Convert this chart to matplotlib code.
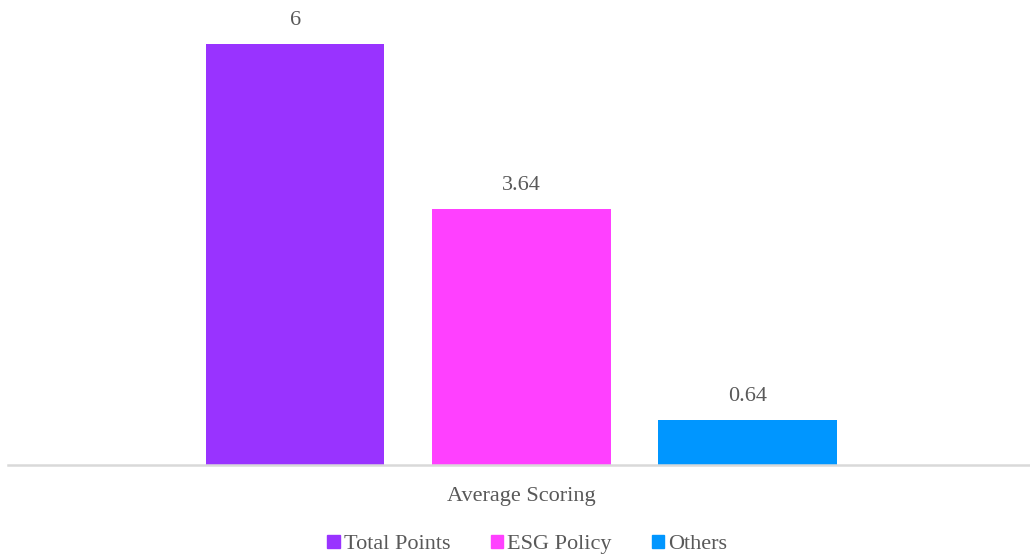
import matplotlib.pyplot as plt
from matplotlib.patches import Patch

series = ["Total Points", "ESG Policy", "Others"]
values = [6, 3.64, 0.64]
labels = ["6", "3.64", "0.64"]
colors = ["#9933FF", "#FF40FF", "#0096FF"]
category = "Average Scoring"

plt.rcParams['font.family'] = ['Liberation Serif', 'DejaVu Serif']
txt = "#595959"

fig = plt.figure(figsize=(10.3, 5.58), dpi=100)
ax = fig.add_axes([8 / 1030, 93 / 558, 1022 / 1030, 465 / 558])

pos = [-1, 0, 1]
ax.bar(pos, values, width=0.79, color=colors)
for p, v, l in zip(pos, values, labels):
    ax.text(p, v + 0.2, l, ha='center', va='bottom', fontsize=16, color=txt)

ax.set_xlim(-2.27, 2.25)
ax.set_ylim(0, 6.62)
ax.set_yticks([])
ax.set_xticks([0])
ax.set_xticklabels([category], fontsize=16, color=txt)
ax.tick_params(axis='x', length=0, pad=16)
for s in ['top', 'right', 'left']:
    ax.spines[s].set_visible(False)
ax.spines['bottom'].set_color('#D9D9D9')
ax.spines['bottom'].set_linewidth(1.8)

handles = [Patch(color=c, label=s) for c, s in zip(colors, series)]
fig.legend(handles=handles, loc='center', bbox_to_anchor=(0.512, 0.024), ncol=3,
           frameon=False, fontsize=16, handlelength=0.55, handleheight=0.55,
           handletextpad=0.2, columnspacing=1.8, labelcolor=txt)

fig.savefig("out.png", dpi=100)
